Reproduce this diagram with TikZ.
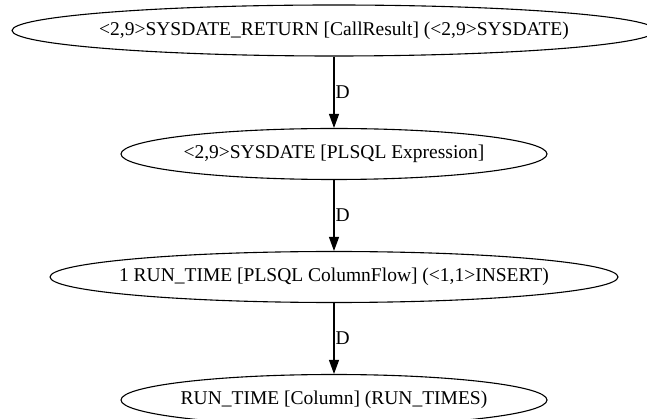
\documentclass[tikz,border=0pt]{standalone}
\usepackage{fontspec}
\setmainfont{Liberation Serif}
\usetikzlibrary{shapes.geometric,arrows.meta}
\begin{document}
\begin{tikzpicture}[x=1pt,y=-1pt,
  ell/.style={draw, ellipse, line width=1.1pt, inner sep=0pt},
  lbl/.style={font=\fontsize{19.5}{23}\selectfont},
  flow/.style={-{Triangle[length=14pt,width=10pt]}, line width=1.1pt},
  elab/.style={right, inner sep=1pt, font=\fontsize{19.5}{23}\selectfont}]
\fill[white] (0,0) rectangle (647,419);
\useasboundingbox (0,0) rectangle (647,419);
\node[ell, minimum width=644pt, minimum height=51pt,
  label={[lbl]center:{<2,9>SYSDATE\_RETURN [CallResult] (<2,9>SYSDATE)}}] (n1) at (334,30.5) {};
\node[ell, minimum width=426pt, minimum height=51pt,
  label={[lbl]center:{<2,9>SYSDATE [PLSQL Expression]}}] (n2) at (334,154) {};
\node[ell, minimum width=568pt, minimum height=51pt,
  label={[lbl]center:{1 RUN\_TIME [PLSQL ColumnFlow] (<1,1>INSERT)}}] (n3) at (334,277) {};
\node[ell, minimum width=426pt, minimum height=51pt,
  label={[lbl]center:{RUN\_TIME [Column] (RUN\_TIMES)}}] (n4) at (334,400) {};
\draw[flow] (n1) -- node[elab] {D} (n2);
\draw[flow] (n2) -- node[elab] {D} (n3);
\draw[flow] (n3) -- node[elab] {D} (n4);
\end{tikzpicture}
\end{document}
